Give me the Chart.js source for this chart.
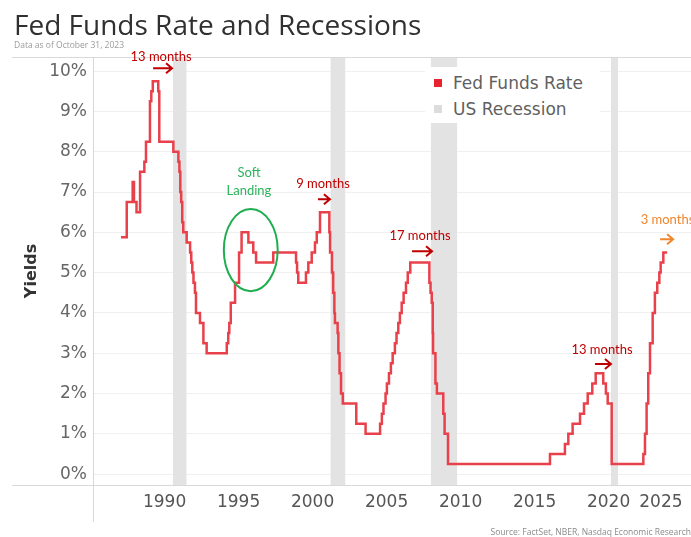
<!DOCTYPE html>
<html>
<head>
<meta charset="utf-8">
<title>Fed Funds Rate and Recessions</title>
<script src="https://cdn.jsdelivr.net/npm/chart.js@4.4.0/dist/chart.umd.min.js"></script>
<style>
  body{margin:0;background:#fff;}
  #wrap{position:relative;width:691px;height:537px;overflow:hidden;background:#fff;}
  #c{position:absolute;left:0;top:0;}
  .txt{position:absolute;white-space:nowrap;line-height:1;}
  #title{left:14px;top:5px;font:28px 'Open Sans',sans-serif;color:#303030;}
  #sub{left:14px;top:39px;font:8.5px 'Open Sans',sans-serif;color:#9a9a9a;}
  #src{right:0;top:526px;font:8.5px 'Open Sans',sans-serif;color:#8a8a8a;}
  #legend{position:absolute;left:425px;top:67px;width:175px;height:56px;background:#fff;}
  .lg{position:absolute;left:28px;font:17px 'DejaVu Sans',sans-serif;color:#5f5f5f;white-space:nowrap;line-height:1;}
  .sw{position:absolute;left:9px;width:8px;height:8px;}
  .note{position:absolute;white-space:nowrap;line-height:1;font:13px Lato,sans-serif;transform:translate(-50%,-50%);}
</style>
</head>
<body>
<div id="wrap">
  <canvas id="c" width="691" height="537"></canvas>
  <div class="txt" id="title">Fed Funds Rate and Recessions</div>
  <div class="txt" id="sub">Data as of October 31, 2023</div>
  <div class="txt" id="src">Source: FactSet, NBER, Nasdaq Economic Research</div>
  <div id="legend">
    <div class="sw" style="top:12px;background:#e8232e"></div>
    <div class="lg" style="top:8px">Fed Funds Rate</div>
    <div class="sw" style="top:38px;background:#dcdcdc"></div>
    <div class="lg" style="top:34px">US Recession</div>
  </div>
</div>
<script>
// fed funds target: year of each change and the new rate (%)
const rateYears = [
  1987.05, 1987.44, 1987.84, 1987.93, 1988.10, 1988.34, 1988.63, 1988.74,
  1989.01, 1989.10, 1989.20, 1989.57, 1989.64,
  1990.59, 1990.93, 1991.00, 1991.06, 1991.12, 1991.19, 1991.26, 1991.49,
  1991.72, 1991.80, 1991.87, 1991.95, 1992.05, 1992.12, 1992.39, 1992.62, 1992.84,
  1994.20, 1994.30, 1994.37, 1994.47, 1994.76, 1995.03, 1995.20, 1995.66, 1995.99, 1996.18,
  1997.34, 1998.88, 1998.95, 1999.03, 1999.55, 1999.71, 1999.94, 2000.16, 2000.28, 2000.50,
  2001.13, 2001.18, 2001.31, 2001.39, 2001.47, 2001.51, 2001.69, 2001.74, 2001.82, 2001.92, 2002.04,
  2002.95, 2003.58,
  2004.56, 2004.68, 2004.79, 2004.93, 2005.02, 2005.16, 2005.29, 2005.41, 2005.56,
  2005.67, 2005.79, 2005.90, 2006.02, 2006.15, 2006.31, 2006.43, 2006.60,
  2007.89, 2007.97, 2008.05, 2008.12, 2008.14, 2008.30, 2008.40, 2008.83, 2008.92, 2009.15,
  2016.04, 2017.05, 2017.28, 2017.57, 2018.07, 2018.34, 2018.59, 2018.90, 2019.13,
  2019.64, 2019.82, 2019.94, 2020.21,
  2022.35, 2022.46, 2022.57, 2022.68, 2022.80, 2022.98, 2023.13, 2023.29, 2023.43,
  2023.52, 2023.70, 2023.96
];
const rateValues = [
  5.875, 6.75, 7.25, 6.75, 6.5, 7.5, 7.75, 8.25,
  9.25, 9.5, 9.75, 9.5, 8.25,
  8.0, 7.75, 7.5, 7.0, 6.75, 6.25, 6.0, 5.75,
  5.5, 5.25, 5.0, 4.75, 4.5, 4.0, 3.75, 3.25, 3.0,
  3.25, 3.5, 3.75, 4.25, 4.75, 5.5, 6.0, 5.75, 5.5, 5.25,
  5.5, 5.25, 5.0, 4.75, 5.0, 5.25, 5.5, 5.75, 6.0, 6.5,
  6.0, 5.5, 5.0, 4.5, 4.0, 3.75, 3.5, 3.0, 2.5, 2.0, 1.75,
  1.25, 1.0,
  1.25, 1.5, 1.75, 2.0, 2.25, 2.5, 2.75, 3.0, 3.25,
  3.5, 3.75, 4.0, 4.25, 4.5, 4.75, 5.0, 5.25,
  4.75, 4.5, 4.25, 3.5, 3.0, 2.25, 2.0, 1.5, 1.0, 0.25,
  0.5, 0.75, 1.0, 1.25, 1.5, 1.75, 2.0, 2.25, 2.5,
  2.25, 2.0, 1.75, 0.25,
  0.5, 1.0, 1.75, 2.5, 3.25, 4.0, 4.5, 4.75, 5.0,
  5.25, 5.5, 5.5
];

// US recessions (shaded)
const recStart = [1990.55, 2001.20, 2007.98, 2020.15];
const recEnd   = [1991.49, 2002.22, 2009.78, 2020.65];

const yTicks = [0, 1, 2, 3, 4, 5, 6, 7, 8, 9, 10];
const xTicks = [1985, 1990, 1995, 2000, 2005, 2010, 2015, 2020, 2025];
const xMin = 1985.16, xMax = 2025.57, yMin = -0.27, yMax = 10.35;

// annotations, in data units: arrow [from, to, at %, colour]
const arrows = [
  [1989.22, 1990.50, 10.07, '#c00000'],
  [2000.36, 2001.17, 6.82, '#c00000'],
  [2006.72, 2008.07, 5.53, '#c00000'],
  [2019.08, 2020.16, 2.73, '#c00000'],
  [2023.48, 2024.36, 5.83, '#f0862e']
];
const notes = [
  ['13 months', 1989.76, 10.37, '#c00000'],
  ['9 months', 2000.70, 7.22, '#c00000'],
  ['17 months', 2007.26, 5.93, '#c00000'],
  ['13 months', 2019.56, 3.10, '#c00000'],
  ['3 months', 2023.98, 6.33, '#f0862e'],
  ['Soft', 1995.70, 7.49, '#2bb45c'],
  ['Landing', 1995.70, 7.05, '#2bb45c']
];
const softLanding = {x: 1995.82, y: 5.56, rx: 1.82, ry: 1.02};

const rateData = rateYears.map((t, i) => ({x: t, y: rateValues[i]}));

const recSets = recStart.map((s, i) => ({
  label: 'US Recession',
  data: [{x: s, y: yMax}, {x: recEnd[i], y: yMax}],
  borderWidth: 0,
  pointRadius: 0,
  backgroundColor: '#e3e3e3',
  fill: 'start',
  order: 2
}));

const extras = {
  id: 'extras',
  afterDraw(chart){
    const {ctx, chartArea: a, scales: {x, y}} = chart;
    ctx.save();
    ctx.strokeStyle = '#d9d9d9';
    ctx.lineWidth = 1;
    ctx.beginPath();
    ctx.moveTo(12, a.top + 0.5); ctx.lineTo(a.right, a.top + 0.5);
    ctx.moveTo(12, a.bottom + 0.5); ctx.lineTo(a.right, a.bottom + 0.5);
    ctx.moveTo(a.left + 0.5, a.top); ctx.lineTo(a.left + 0.5, a.bottom + 37);
    ctx.stroke();

    arrows.forEach(([t0, t1, v, c]) => {
      const x0 = x.getPixelForValue(t0), x1 = x.getPixelForValue(t1), py = y.getPixelForValue(v);
      ctx.strokeStyle = c;
      ctx.lineWidth = 2;
      ctx.beginPath();
      ctx.moveTo(x0, py); ctx.lineTo(x1, py);
      ctx.moveTo(x1 - 6, py - 5); ctx.lineTo(x1, py); ctx.lineTo(x1 - 6, py + 5);
      ctx.stroke();
    });

    const cx = x.getPixelForValue(softLanding.x), cy = y.getPixelForValue(softLanding.y);
    const rx = x.getPixelForValue(softLanding.x + softLanding.rx) - cx;
    const ry = cy - y.getPixelForValue(softLanding.y + softLanding.ry);
    ctx.strokeStyle = '#1fae4f';
    ctx.lineWidth = 2;
    ctx.beginPath();
    ctx.ellipse(cx, cy, rx, ry, 0, 0, Math.PI * 2);
    ctx.stroke();
    ctx.restore();
  }
};

const chart = new Chart(document.getElementById('c'), {
  type: 'line',
  data: {
    datasets: [
      {
        label: 'Fed Funds Rate',
        data: rateData,
        borderColor: '#e8414b',
        borderWidth: 2.5,
        pointRadius: 0,
        stepped: true,
        fill: false,
        order: 1
      },
      ...recSets
    ]
  },
  options: {
    responsive: false,
    animation: false,
    layout: {padding: {top: 57, left: 0, right: 0, bottom: 0}},
    plugins: {
      legend: {display: false},
      tooltip: {enabled: false}
    },
    scales: {
      x: {
        type: 'linear',
        min: xMin,
        max: xMax,
        grid: {display: false, drawTicks: false},
        border: {display: false},
        afterBuildTicks(s){ s.ticks = xTicks.map(v => ({value: v})); },
        afterFit(s){ s.height = 52; s.paddingLeft = 0; s.paddingRight = 0; },
        ticks: {
          autoSkip: false,
          maxRotation: 0,
          align: 'inner',
          padding: 7,
          color: '#555',
          font: {family: 'DejaVu Sans', size: 17},
          callback: v => v < xMin ? '' : String(v)
        }
      },
      y: {
        min: yMin,
        max: yMax,
        grid: {color: '#f0f0f0', drawTicks: false},
        border: {display: false},
        afterBuildTicks(s){ s.ticks = yTicks.map(v => ({value: v})); },
        afterFit(s){ s.width = 93; s.paddingTop = 0; s.paddingBottom = 0; },
        title: {
          display: true,
          text: 'Yields',
          color: '#333',
          font: {family: 'DejaVu Sans', size: 16, weight: 'bold'},
          padding: {top: 22, bottom: 0}
        },
        ticks: {
          padding: 6,
          color: '#666',
          font: {family: 'DejaVu Sans', size: 17},
          callback: v => v + '%'
        }
      }
    }
  },
  plugins: [extras]
});

// annotation labels, placed through the chart scales
const wrap = document.getElementById('wrap');
notes.forEach(([text, t, v, c]) => {
  const d = document.createElement('div');
  d.className = 'note';
  d.textContent = text;
  d.style.color = c;
  d.style.left = chart.scales.x.getPixelForValue(t) + 'px';
  d.style.top = chart.scales.y.getPixelForValue(v) + 'px';
  wrap.appendChild(d);
});
</script>
</body>
</html>
